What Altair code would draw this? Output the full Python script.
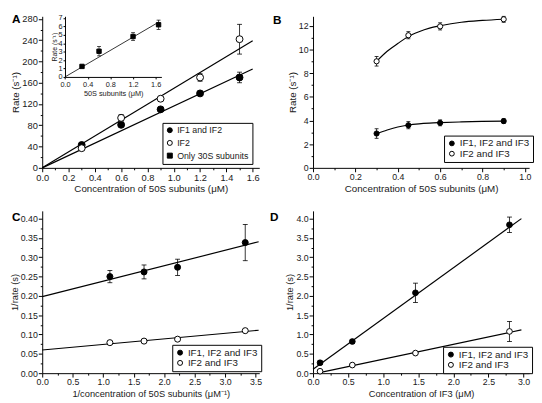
import altair as alt
import pandas as pd

FONT = "Liberation Sans"
INK = "#1a1a1a"

# ---------------- Panel A ----------------
A_x = [0.3, 0.6, 0.9, 1.2, 1.5]
A_if12 = [43, 81, 110, 140, 170]
A_if12_err = [3, 3, 3, 3, 10]
A_if2 = [37, 94, 130, 170, 242]
A_if2_err = [3, 6, 3, 7, 28]
A_fit_x = [0.0, 1.6]
A_fit_if12 = [0.0, 186.0]
A_fit_if2 = [0.0, 239.0]
A_series = ["IF1 and IF2", "IF2", "Only 30S subunits"]

# inset of panel A
IN_x = [0.3, 0.6, 1.2, 1.65]
IN_y = [1.25, 3.05, 4.8, 6.2]
IN_err = [0.15, 0.55, 0.45, 0.55]
IN_fit_x = [0.0, 1.65]
IN_fit_y = [0.0, 6.5]

# ---------------- Panel B ----------------
S2 = ["IF1, IF2 and IF3", "IF2 and IF3"]
B_x = [0.3, 0.45, 0.6, 0.9]
B_all = [2.9, 3.6, 3.8, 3.95]
B_all_err = [0.4, 0.3, 0.25, 0.2]
B_if23 = [9.0, 11.2, 11.95, 12.55]
B_if23_err = [0.4, 0.3, 0.3, 0.25]
B_fit_x = [0.3, 0.35, 0.4, 0.45, 0.5, 0.55, 0.6, 0.7, 0.8, 0.9]
B_fit_all = [2.9, 3.2, 3.45, 3.62, 3.72, 3.78, 3.82, 3.88, 3.92, 3.95]
B_fit_if23 = [9.0, 9.85, 10.5, 11.1, 11.5, 11.8, 12.0, 12.3, 12.45, 12.55]

# ---------------- Panel C ----------------
C_x = [1.11, 1.67, 2.22, 3.33]
C_all = [0.250, 0.262, 0.274, 0.338]
C_all_err = [0.016, 0.018, 0.021, 0.047]
C_if23 = [0.079, 0.083, 0.088, 0.110]
C_if23_err = [0.002, 0.002, 0.002, 0.002]
C_fit_x = [0.0, 3.55]
C_fit_all = [0.198, 0.340]
C_fit_if23 = [0.060, 0.111]

# ---------------- Panel D ----------------
D_x = [0.1, 0.56, 1.46, 2.8]
D_all = [0.27, 0.82, 2.08, 3.84]
D_all_err = [0.05, 0.05, 0.25, 0.2]
D_if23 = [0.05, 0.21, 0.52, 1.08]
D_if23_err = [0.02, 0.03, 0.03, 0.26]
D_fit_x_all = [0.0, 2.97]
D_fit_all = [0.1, 4.0]
D_fit_x_if23 = [0.06, 2.97]
D_fit_if23 = [0.0, 1.12]


def pts_df(xs, ys_list, err_list, names):
    rows = []
    for ys, es, n in zip(ys_list, err_list, names):
        for xi, yi, ei in zip(xs, ys, es):
            rows.append(dict(x=xi, y=yi, lo=yi - ei, hi=yi + ei, series=n))
    return pd.DataFrame(rows)


def fit_df(xs_list, ys_list, names):
    rows = []
    for xs, ys, n in zip(xs_list, ys_list, names):
        for xi, yi in zip(xs, ys):
            rows.append(dict(x=xi, y=yi, series=n))
    return pd.DataFrame(rows)


def frange(a, b, s):
    out, v = [], a
    while v <= b + 1e-9:
        out.append(round(v, 4))
        v += s
    return out


def core(pts, fits, enc, fill, shape, stroke, size, interp="linear", lw=1.2, capw=5, ew=0.8):
    X, Y, Ylo, Yhi = enc
    base = alt.Chart(pts)
    rule = base.mark_rule(color="black", strokeWidth=ew).encode(x=X, y=Ylo, y2="hi:Q")
    cap_lo = base.mark_tick(orient="horizontal", size=capw, thickness=ew, color="black", opacity=1).encode(x=X, y=Ylo)
    cap_hi = base.mark_tick(orient="horizontal", size=capw, thickness=ew, color="black", opacity=1).encode(x=X, y=Yhi)
    line = alt.Chart(fits).mark_line(color="black", strokeWidth=lw, interpolate=interp).encode(
        x=X, y=Y, detail="series:N")
    pt = base.mark_point(filled=True, strokeWidth=1, opacity=1, size=size).encode(
        x=X, y=Y, fill=fill, shape=shape, stroke=stroke)
    return [rule, cap_lo, cap_hi, line, pt]


def make_enc(xs, ys, xax, yax):
    return (alt.X("x:Q", scale=xs, axis=xax), alt.Y("y:Q", scale=ys, axis=yax),
            alt.Y("lo:Q", scale=ys, axis=yax), alt.Y("hi:Q", scale=ys, axis=yax))


def axes(xdom, ydom, xvals, yvals, xfmt, yfmt, xtitle, ytitle, lfs, tfs):
    xs = alt.Scale(domain=xdom, nice=False, zero=False)
    ys = alt.Scale(domain=ydom, nice=False, zero=False)
    xax = alt.Axis(values=xvals, format=xfmt, title=xtitle, labelFontSize=lfs, titleFontSize=tfs,
                   labelPadding=1, titlePadding=2, labelFlush=False)
    yax = alt.Axis(values=yvals, format=yfmt, title=ytitle, labelFontSize=lfs, titleFontSize=tfs,
                   labelPadding=1, titlePadding=1)
    return make_enc(xs, ys, xax, yax)


def minor_layer(pts, xdom, ydom, xminor, yminor):
    xs = alt.Scale(domain=xdom, nice=False, zero=False)
    ys = alt.Scale(domain=ydom, nice=False, zero=False)
    xax = alt.Axis(orient="bottom", values=xminor, labels=False, domain=False, tickSize=2, title=None)
    yax = alt.Axis(orient="left", values=yminor, labels=False, domain=False, tickSize=2, title=None)
    return alt.Chart(pts).mark_point(opacity=0, size=1).encode(
        x=alt.X("x:Q", scale=xs, axis=xax), y=alt.Y("y:Q", scale=ys, axis=yax))


def leg(x, y, fs, ssize, rp):
    return alt.Legend(title=None, orient="none", legendX=x, legendY=y, labelFontSize=fs,
                      symbolSize=ssize, strokeColor="black", fillColor="white", padding=3,
                      rowPadding=rp, labelOffset=3, symbolStrokeWidth=1)


def encodings(series, fills, shapes, lg):
    fill = alt.Fill("series:N", scale=alt.Scale(domain=series, range=fills), legend=lg)
    shape = alt.Shape("series:N", scale=alt.Scale(domain=series, range=shapes), legend=lg)
    stroke = alt.Stroke("series:N", scale=alt.Scale(domain=series, range=["black"] * len(series)), legend=lg)
    return fill, shape, stroke


def letter(t, x, y):
    return alt.Chart(pd.DataFrame({"t": [t]})).mark_text(
        fontSize=12, fontWeight="bold", align="left", baseline="middle", color="black", font=FONT
    ).encode(text="t:N", x=alt.value(x), y=alt.value(y))


# ---------- build A ----------
A_W, A_H = 222, 155
lgA = leg(123, 109, 9, 26, 2)
fillA, shapeA, strokeA = encodings(A_series, ["black", "white", "black"], ["circle", "circle", "square"], lgA)
fillI, shapeI, strokeI = encodings(A_series, ["black", "white", "black"], ["circle", "circle", "square"], None)
A_xdom, A_ydom = [0, 1.65], [0, 285]
encA = axes(A_xdom, A_ydom, frange(0, 1.6, 0.2), frange(0, 280, 40), ".1f", "d",
            "Concentration of 50S subunits (μM)", "Rate (s⁻¹)", 9.5, 10)
ptsA = pts_df(A_x, [A_if12, A_if2], [A_if12_err, A_if2_err], A_series[:2])
fitA = fit_df([A_fit_x, A_fit_x], [A_fit_if12, A_fit_if2], A_series[:2])
mainA = alt.layer(*core(ptsA, fitA, encA, fillA, shapeA, strokeA, 50), letter("A", -31, 3))
minorA = minor_layer(ptsA, A_xdom, A_ydom, frange(0.1, 1.5, 0.2), frange(20, 260, 40))

# inset
ix0, ix1 = 23.3, 121.9
iy0, iy1 = 62, 0
ixs = alt.Scale(domain=[0, 1.7], range=[ix0, ix1], nice=False, zero=False)
iys = alt.Scale(domain=[0, 7.2], range=[iy0, iy1], nice=False, zero=False)
ixax = alt.Axis(orient="bottom", offset=iy0 - A_H, values=frange(0, 1.6, 0.4), format=".1f",
                title="50S subunits (μM)", labelFontSize=7.5, titleFontSize=7.5, tickSize=2,
                labelPadding=2, titlePadding=1, labelFlush=False)
iyax = alt.Axis(orient="left", offset=-ix0, values=frange(0, 7, 1), format="d", title="Rate (s⁻¹)",
                labelFontSize=7.5, titleFontSize=7, tickSize=2, labelPadding=1, titlePadding=1)
encI = make_enc(ixs, iys, ixax, iyax)
ptsI = pts_df(IN_x, [IN_y], [IN_err], [A_series[2]])
fitI = fit_df([IN_fit_x], [IN_fit_y], [A_series[2]])
insetA = alt.layer(*core(ptsI, fitI, encI, fillI, shapeI, strokeI, 20, lw=0.8, capw=4, ew=0.7))

A = alt.layer(mainA, insetA, minorA).resolve_scale(x="independent", y="independent").properties(
    width=A_W, height=A_H)


def two_series_panel(pts, fits, xdom, ydom, xvals, yvals, xminor, yminor, fmts, titles, fs, lg, size, let,
                     interp="linear", w=221, h=166, capw=5):
    enc = axes(xdom, ydom, xvals, yvals, fmts[0], fmts[1], titles[0], titles[1], fs[0], fs[1])
    fill, shape, stroke = encodings(S2, ["black", "white"], ["circle", "circle"], lg)
    main = alt.layer(*core(pts, fits, enc, fill, shape, stroke, size, interp=interp, capw=capw), let)
    minor = minor_layer(pts, xdom, ydom, xminor, yminor)
    return alt.layer(main, minor).resolve_scale(x="independent", y="independent").properties(width=w, height=h)


B = two_series_panel(
    pts_df(B_x, [B_all, B_if23], [B_all_err, B_if23_err], S2),
    fit_df([B_fit_x, B_fit_x], [B_fit_all, B_fit_if23], S2),
    [0, 1.02], [0, 12.8], frange(0, 1.0, 0.2), frange(0, 12, 2), frange(0.1, 0.9, 0.2), frange(1, 11, 2),
    (".1f", "d"), ("Concentration of 50S subunits (μM)", "Rate (s⁻¹)"), (9, 10),
    leg(134, 122, 10, 24, 0.5), 28, letter("B", -41, 4), interp="monotone", w=221, h=A_H, capw=4)

C = two_series_panel(
    pts_df(C_x, [C_all, C_if23], [C_all_err, C_if23_err], S2),
    fit_df([C_fit_x, C_fit_x], [C_fit_all, C_fit_if23], S2),
    [0, 3.56], [0, 0.42], frange(0, 3.5, 0.5), frange(0, 0.4, 0.05), frange(0.25, 3.25, 0.5),
    frange(0.025, 0.375, 0.05),
    (".1f", ".2f"), ("1/concentration of 50S subunits (μM⁻¹)", "1/rate (s)"), (9, 9.5),
    leg(133, 137, 10, 26, 0.5), 38, letter("C", -31, 6), w=222)

D = two_series_panel(
    pts_df(D_x, [D_all, D_if23], [D_all_err, D_if23_err], S2),
    fit_df([D_fit_x_all, D_fit_x_if23], [D_fit_all, D_fit_if23], S2),
    [0, 3.08], [0, 4.2], frange(0, 3.0, 0.5), frange(0, 4.0, 0.5), frange(0.25, 2.75, 0.5),
    frange(0.25, 3.75, 0.5),
    (".1f", ".1f"), ("Concentration of IF3 (μM)", "1/rate (s)"), (9, 9.5),
    leg(133, 139, 10, 26, 0.5), 34, letter("D", -44, 6), w=221)

chart = alt.concat(A, B, C, D, columns=2, spacing={"row": 44, "column": 55}, bounds="flush").resolve_scale(
    fill="independent", shape="independent", stroke="independent"
).configure(
    padding=0, font=FONT
).configure_view(
    stroke="transparent"
).configure_axis(
    grid=False, domainColor="black", tickColor="black", tickSize=4, domainWidth=1, tickWidth=1,
    labelColor=INK, titleColor=INK, labelFont=FONT, titleFont=FONT, titleFontWeight="normal"
).configure_legend(
    labelFont=FONT, labelColor=INK
)

chart.save("out.html", embed_options={"renderer": "svg", "actions": False})
